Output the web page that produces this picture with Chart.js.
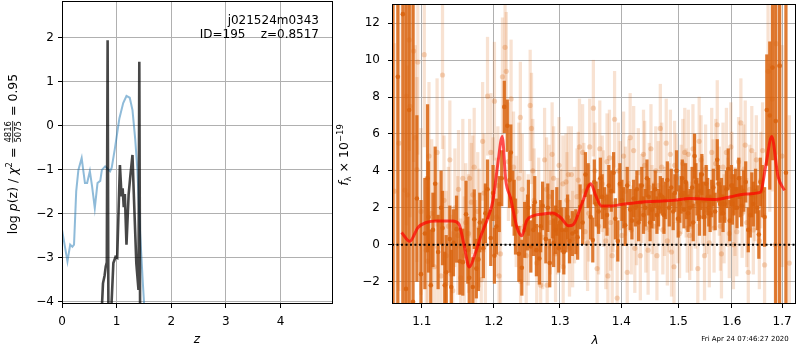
<!DOCTYPE html>
<html>
<head>
<meta charset="utf-8">
<script src="https://cdn.jsdelivr.net/npm/chart.js@4.4.1/dist/chart.umd.min.js"></script>
<style>
html, body { margin: 0; padding: 0; background: #fff; }
#wrap { position: relative; width: 800px; height: 350px; overflow: hidden; }
canvas { position: absolute; top: 0; }
#pz { left: 0; }
#sp { left: 330px; }
</style>
</head>
<body>
<div id="wrap">
  <canvas id="pz" width="340" height="350"></canvas>
  <canvas id="sp" width="470" height="350"></canvas>
</div>
<script>
// ---- panel 1: log p(z) ----
const zPrior = [0.00, 0.10, 0.15, 0.19, 0.22, 0.26, 0.30, 0.36, 0.42, 0.46, 0.51, 0.55, 0.60, 0.65, 0.70,
                0.73, 0.79, 0.88, 0.91, 0.97, 1.05, 1.12, 1.18, 1.24, 1.29, 1.34, 1.38, 1.43, 1.48, 1.52];
const logpPrior = [-2.36, -3.08, -2.7, -2.75, -2.7, -1.49, -1.0, -0.73, -1.3, -1.3, -1.03, -1.37, -1.87, -1.3, -1.25,
                   -1.0, -0.92, -1.03, -0.95, -0.5, 0.17, 0.52, 0.68, 0.64, 0.36, -0.3, -1.0, -2.44, -3.58, -4.4];
const zFit = [0.72, 0.75, 0.78, 0.80, 0.82, 0.835, 0.85, 0.89, 0.94, 0.98, 1.01, 1.06, 1.09, 1.11, 1.13,
              1.15, 1.18, 1.22, 1.25, 1.29, 1.31, 1.36, 1.40, 1.415, 1.43];
const logpFit = [-4.4, -3.58, -3.4, -3.2, -3.1, 1.95, -4.5, -4.5, -3.12, -2.98, -3.0, -0.89, -1.6, -1.42, -1.85,
                 -1.55, -2.7, -1.55, -1.15, -0.66, -1.4, -3.12, -3.73, 1.46, -4.5];
const zTicks = [0, 1, 2, 3, 4];
const logpTicks = [-4, -3, -2, -1, 0, 1, 2];

// ---- panel 2: spectrum ----
const lamDark = [1.0625,1.0687,1.0752,1.0793,1.0835,1.0885,1.0936,1.0990,1.1042,1.1078,
  1.1121,1.1150,1.1180,1.1220,1.1260,1.1310,1.1330,1.1380,1.1430,1.1473,
  1.1520,1.1560,1.1605,1.1650,1.1700,1.1721,1.1750,1.1800,1.1850,1.1910,
  1.1957,1.1990,1.2038,1.2080,1.2116,1.2154,1.2198,1.2232,1.2280,1.2320,
  1.2370,1.2414,1.2457,1.2513,1.2550,1.2590,1.2635,1.2680,1.2730,1.2780,
  1.2840,1.2880,1.2930,1.2980,1.3030,1.3095,1.3150,1.3195,1.3250,1.3320,
  1.3360,1.3406,1.3450,1.3490,1.3525,1.3550,1.3620,1.3680,1.3760,1.3790,
  1.3870,1.3940,1.4010,1.4065,1.4150,1.4210,1.4265,1.4320,1.4380,1.4440,
  1.4495,1.4555,1.4615,1.4675,1.4710,1.4800,1.4870,1.4905,1.4965,1.5025,
  1.5070,1.5130,1.5175,1.5250,1.5295,1.5340,1.5385,1.5430,1.5480,1.5540,
  1.5585,1.5645,1.5720,1.5775,1.5830,1.5895,1.5930,1.5990,1.6040,1.6135,
  1.6190,1.6230,1.6320,1.6360,1.6420,1.6465,1.6530,1.6600,1.6645,1.6690,
  1.6750,1.6805,1.6870,1.6950,1.7080,
  1.3000,1.3060,1.3120,1.3280,1.3580,1.3650,1.3720,1.3830,1.3900,1.3975,
  1.4040,1.4100,1.4180,1.4240,1.4295,1.4350,1.4410,1.4470,1.4525,1.4585,
  1.4645,1.4740,1.4770,1.4835,1.4935,1.4995,1.5050,1.5100,1.5150,1.5210,
  1.5270,1.5320,1.5365,1.5405,1.5455,1.5510,1.5560,1.5615,1.5680,1.5745,
  1.5800,1.5860,1.5960,1.6010,1.6070,1.6100,1.6160,1.6270,1.6390,1.6500,
  1.6560,1.2500,1.2610,1.2700,1.2810,1.2900,1.2950,1.1090,1.1280,1.1400,
  1.1630,1.1780,1.1880,1.2010,1.2250,1.2300];
const fluxDark = [14.5,9.1,12.5,-2.4,7.3,-3.1,2.5,-1.6,0.6,3.6,
  -2.2,0.8,3.3,-0.4,2.0,-2.2,-1.5,0.3,0.1,0.84,
  -0.9,-0.95,1.65,-1.8,-2.3,1.38,-1.3,1.2,-0.2,3.0,
  0.36,2.8,0.98,2.2,3.6,7.47,6.45,3.5,2.5,0.98,
  -0.5,-1.25,0.8,2.0,-0.1,0.8,-0.3,-0.75,2.1,0.3,
  -1.0,1.65,0.8,-0.2,0.8,0.8,0.2,0.6,0.7,2.05,
  1.2,3.8,3.2,1.5,0.25,3.4,1.8,2.6,1.6,3.2,
  3.9,0.2,2.4,1.05,1.9,2.5,3.0,2.3,1.6,3.6,
  1.2,2.3,1.6,2.7,2.6,3.5,3.1,1.8,4.0,2.2,
  3.6,3.4,1.7,3.1,4.8,2.6,1.5,3.8,1.5,2.6,
  1.7,3.1,4.6,2.2,1.7,3.0,4.1,3.2,2.7,3.6,
  2.1,2.9,0.8,1.6,2.2,2.9,0.55,2.9,1.5,7.3,
  7.0,9.6,6.7,9.7,3.9,
  1.2,-0.4,1.5,0.4,2.2,3.6,2.0,2.9,1.4,3.3,
  2.0,3.2,1.3,2.0,1.2,3.2,2.0,2.6,1.9,3.0,
  2.0,1.6,2.4,2.0,2.8,1.4,2.7,1.9,2.4,2.0,
  1.2,3.4,2.3,2.9,2.4,3.3,2.0,2.5,1.8,3.3,
  2.6,2.2,1.3,2.2,3.0,2.0,2.6,3.4,2.7,2.0,
  3.4,1.2,2.3,1.0,2.0,0.1,1.8,1.5,0.9,-2.3,
  -0.3,-0.8,1.7,-0.6,5.0,2.0];
const errDark = [25,25,25,25,25,25,4.5,4.0,3.0,4.0,
  3.0,2.0,2.0,2.0,2.0,1.8,2.0,1.8,1.8,1.8,
  1.8,1.8,1.8,1.8,1.6,1.6,1.6,1.6,1.6,1.6,
  1.5,1.5,1.5,1.5,1.5,1.4,1.4,1.5,1.5,1.5,
  1.5,1.5,1.5,1.5,1.4,1.4,1.4,1.4,1.3,1.3,
  1.3,1.3,1.3,1.3,1.2,1.2,1.2,1.2,1.2,1.2,
  1.2,1.2,1.2,1.2,1.2,1.2,1.2,1.2,1.1,1.1,
  1.1,1.1,1.1,1.1,1.1,1.0,1.0,1.0,1.0,1.0,
  1.0,1.0,1.0,1.0,1.0,1.0,1.0,1.0,1.1,1.0,
  1.0,1.0,1.0,1.1,1.2,1.0,1.0,1.1,1.0,1.0,
  1.0,1.0,1.1,1.0,1.0,1.0,1.1,1.1,1.1,1.1,
  1.1,1.1,1.2,1.2,1.2,1.2,1.3,1.4,1.6,3.0,
  4.0,5.0,25,25,25,
  1.2,1.2,1.2,1.2,1.2,1.1,1.1,1.1,1.1,1.1,
  1.1,1.0,1.0,1.0,1.0,1.0,1.0,1.0,1.0,1.0,
  1.0,1.0,1.0,1.0,1.0,1.0,1.0,1.0,1.0,1.0,
  1.0,1.0,1.0,1.0,1.0,1.0,1.0,1.0,1.0,1.0,
  1.0,1.0,1.1,1.1,1.1,1.1,1.1,1.1,1.2,1.2,
  1.3,1.5,1.4,1.4,1.3,1.3,1.3,3.0,2.0,2.0,
  1.8,1.7,1.6,1.5,1.5,1.5];

const lamLight = [1.0640,1.0700,1.0778,1.0800,1.0810,1.0835,1.0845,1.0893,1.0915,1.0936,
  1.0948,1.0990,1.1034,1.1060,1.1080,1.1097,1.1133,1.1170,1.1206,1.1215,
  1.1260,1.1280,1.1300,1.1330,1.1360,1.1380,1.1400,1.1420,1.1450,1.1490,
  1.1530,1.1560,1.1600,1.1655,1.1680,1.1700,1.1740,1.1790,1.1820,1.1860,
  1.1910,1.1958,1.2010,1.2040,1.2077,1.2098,1.2127,1.2165,1.2183,1.2215,
  1.2254,1.2290,1.2330,1.2370,1.2392,1.2395,1.2450,1.2480,1.2540,1.2560,
  1.2600,1.2640,1.2700,1.2730,1.2790,1.2800,1.2850,1.2877,1.2930,1.2985,
  1.3045,1.3050,1.3095,1.3131,1.3150,1.3180,1.3230,1.3270,1.3310,1.3360,
  1.3400,1.3440,1.3475,1.3535,1.3596,1.3640,1.3700,1.3760,1.3775,1.3820,
  1.3846,1.3886,1.3930,1.3980,1.4038,1.4100,1.4126,1.4170,1.4210,1.4260,
  1.4325,1.4380,1.4420,1.4480,1.4530,1.4595,1.4615,1.4675,1.4720,1.4780,
  1.4830,1.4875,1.4920,1.4930,1.4990,1.5050,1.5115,1.5160,1.5205,1.5265,
  1.5310,1.5355,1.5415,1.5480,1.5520,1.5615,1.5660,1.5720,1.5760,1.5800,
  1.5850,1.5895,1.5950,1.6000,1.6060,1.6095,1.6175,1.6230,1.6290,1.6320,
  1.6390,1.6450,1.6540,1.6605,1.6645,1.6715,1.6750,1.6800,1.6860,1.6880,
  1.6950,1.7000,1.7150,
  1.3010,1.3110,1.3200,1.3290,1.3380,1.3460,1.3560,1.3620,1.3680,1.3740,
  1.3800,1.3860,1.3950,1.4010,1.4070,1.4150,1.4230,1.4290,1.4350,1.4400,
  1.4460,1.4510,1.4560,1.4640,1.4700,1.4750,1.4800,1.4855,1.4960,1.5020,
  1.5080,1.5140,1.5180,1.5240,1.5290,1.5380,1.5440,1.5500,1.5570,1.5640,
  1.5690,1.5780,1.5830,1.5920,1.5980,1.6030,1.6130,1.6200,1.6260,1.6350,
  1.6420,1.6480,1.6570,1.2420,1.2510,1.2580,1.2670,1.2760,1.2830,1.2900,
  1.2960,1.1500,1.1580,1.1640,1.1720,1.1770,1.1840,1.1880,1.1990,1.2060];
const fluxLight = [2.9,5.5,2.96,8.06,2.7,11.1,7.5,10.5,5.8,4.07,
  9.9,1.8,10.3,-0.3,-0.9,4.8,1.7,-1.2,5.0,-0.14,
  -1.7,9.2,2.4,-0.6,1.0,4.6,-1.6,-2.5,2.0,0.5,
  -1.8,3.6,1.2,3.6,2.3,2.7,-0.8,0.9,-1.9,2.8,
  8.05,5.0,7.78,1.5,-1.7,-0.5,9.1,10.7,9.4,4.5,
  7.9,4.2,1.8,3.6,6.9,-2.0,1.0,-0.6,7.55,6.3,
  2.4,-1.0,-2.2,0.4,3.0,-2.2,1.2,4.9,-0.5,4.3,
  3.3,-1.2,3.4,3.8,-0.2,3.8,1.6,2.6,5.3,5.0,
  0.7,0.1,5.3,7.4,-1.3,5.2,2.5,4.5,-1.7,1.2,
  -0.6,6.8,-2.9,3.2,4.8,-1.5,3.3,0.8,5.1,1.3,
  -0.6,4.9,0.9,3.1,1.9,4.0,-0.6,6.3,0.8,5.5,
  2.0,-0.4,-1.2,4.3,1.4,3.0,5.0,0.9,0.5,5.2,
  2.2,-1.3,4.6,-0.6,1.9,5.0,0.9,6.5,2.9,-0.5,
  1.4,5.0,0.6,3.7,1.8,0.7,6.6,4.1,1.2,-1.5,
  5.1,2.6,0.2,5.1,-1.1,9.4,5.8,7.9,0.0,10.9,
  9.7,4.8,-1.0,
  1.5,2.4,0.3,3.5,2.9,1.7,4.0,1.0,3.3,0.2,
  4.7,2.2,4.0,0.5,2.9,5.8,-0.2,3.9,2.5,4.3,
  -0.3,5.2,1.0,3.2,4.2,1.8,0.2,4.9,3.6,0.6,
  4.4,2.8,4.9,1.0,3.6,5.6,2.4,4.1,0.1,3.3,
  4.4,1.0,4.2,2.3,5.3,0.0,4.5,1.7,5.4,3.0,
  0.8,4.6,3.5,3.0,0.8,4.0,1.9,4.6,2.6,3.6,
  1.0,3.0,-0.6,0.6,4.2,1.8,5.6,0.0,2.6,3.2];
const errLight = [8,8,7,7,7,6,6,6,5,5,
  5,4.5,5,4,4,4,4,4,4,3.5,
  3.5,4,3.5,3.5,3.2,3.2,3.2,3.2,3.2,3.2,
  3.2,3.2,3.2,3.2,3.2,3.2,3.2,3.2,3.2,3.2,
  3.2,3.2,3.2,3.2,3.2,3.2,3.2,3.2,3.2,3.2,
  3.2,3,3,3,3,3,3,3,3,3,
  2.8,2.8,2.8,2.8,2.8,2.8,2.8,2.8,2.6,2.6,
  2.6,2.6,2.6,2.6,2.6,2.6,2.6,2.6,2.6,2.6,
  2.6,2.6,2.6,2.6,2.6,2.6,2.6,2.6,2.6,2.6,
  2.6,2.6,2.6,2.4,2.4,2.4,2.4,2.4,2.4,2.4,
  2.4,2.4,2.4,2.4,2.4,2.4,2.4,2.4,2.4,2.4,
  2.4,2.4,2.4,2.4,2.4,2.4,2.4,2.4,2.4,2.4,
  2.4,2.4,2.4,2.4,2.4,2.4,2.4,2.4,2.4,2.4,
  2.4,2.4,2.4,2.4,2.4,2.4,2.4,2.4,2.4,2.4,
  2.4,2.4,2.6,2.6,2.8,4,4,5,6,6,
  6,6,8,
  2.6,2.6,2.6,2.6,2.6,2.6,2.6,2.6,2.6,2.6,
  2.6,2.6,2.6,2.4,2.4,2.4,2.4,2.4,2.4,2.4,
  2.4,2.4,2.4,2.4,2.4,2.4,2.4,2.4,2.4,2.4,
  2.4,2.4,2.4,2.4,2.4,2.4,2.4,2.4,2.4,2.4,
  2.4,2.4,2.4,2.4,2.4,2.4,2.4,2.4,2.4,2.4,
  2.4,2.4,2.6,3,3,2.8,2.8,2.8,2.8,2.8,
  2.6,3.2,3.2,3.2,3.2,3.2,3.2,3.2,3.2,3.2];

const lamModel = [1.0735, 1.0843, 1.0951, 1.106, 1.1194, 1.1415, 1.1506, 1.1574, 1.1651, 1.1733, 1.1824,
  1.1917, 1.1987, 1.2058, 1.2124, 1.2175, 1.2246, 1.2342, 1.2414, 1.2487, 1.2585, 1.2733, 1.2884,
  1.3009, 1.3136, 1.3214, 1.3345, 1.3494, 1.3569, 1.3666, 1.383, 1.405, 1.433, 1.4615, 1.4912,
  1.521, 1.570, 1.598, 1.627, 1.6563, 1.667, 1.679, 1.6917, 1.705];
const fluxModel = [0.66, 0.18, 0.93, 1.2, 1.28, 1.28, 1.11, 0.04, -1.22, -0.5, 0.57,
  1.47, 2.37, 4.34, 5.86, 3.5, 2.54, 0.93, 0.48, 1.3, 1.56, 1.66, 1.72,
  1.47, 1.02, 1.1, 2.19, 3.3, 2.7, 2.1, 2.1, 2.2, 2.3, 2.35, 2.4,
  2.5, 2.45, 2.6, 2.75, 2.85, 4.3, 5.86, 3.7, 2.94];
const lamTicks = [1.1, 1.2, 1.3, 1.4, 1.5, 1.6, 1.7];
const fluxTicks = [-2, 0, 2, 4, 6, 8, 10, 12];
const zeroLevel = 0;

const FONT = "'DejaVu Sans', sans-serif";
const tickFont = { family: FONT, size: 12 };

function fmt(v) {
    return v < 0 ? '\u2212' + Math.abs(v) : String(v);
}

function pts(xs, ys) {
    return xs.map((x, i) => ({ x: x, y: ys[i] }));
}

function bars(xs, ys, es) {
    return xs.map((x, i) => ({ x: x, y: [ys[i] - es[i], ys[i] + es[i]] }));
}

// texto con tramos (superindices, cursiva, fraccion)
function drawRuns(ctx, runs, cx, cy, angle) {
    ctx.save();
    ctx.translate(cx, cy);
    ctx.rotate(angle);
    ctx.fillStyle = '#000';
    ctx.textBaseline = 'alphabetic';
    let total = 0;
    runs.forEach(r => {
        ctx.font = r.font;
        r.w = r.frac
            ? Math.max(ctx.measureText(r.frac[0]).width, ctx.measureText(r.frac[1]).width) + 2
            : ctx.measureText(r.text).width;
        total += r.w;
    });
    let x = -total / 2;
    runs.forEach(r => {
        ctx.font = r.font;
        if (r.frac) {
            ctx.textAlign = 'center';
            ctx.fillText(r.frac[0], x + r.w / 2, -1);
            ctx.fillText(r.frac[1], x + r.w / 2, 8.5);
            ctx.fillRect(x + 1, 0.3, r.w - 2, 0.8);
        } else {
            ctx.textAlign = 'left';
            ctx.fillText(r.text, x, 4.5 + (r.dy || 0));
        }
        x += r.w;
    });
    ctx.restore();
}

// marco negro alrededor del area
const framePlugin = {
    id: 'frame',
    afterDraw(chart) {
        const a = chart.chartArea;
        const ctx = chart.ctx;
        ctx.save();
        ctx.strokeStyle = '#000';
        ctx.lineWidth = 1;
        ctx.strokeRect(a.left + 0.5, a.top + 0.5, a.right - a.left - 1, a.bottom - a.top - 1);
        ctx.restore();
    }
};

function fixedTicks(values) {
    return function (scale) {
        scale.ticks = values.map(v => ({ value: v }));
    };
}

function fitY(w) {
    return function (s) { s.width = w; s.paddingTop = 0; s.paddingBottom = 0; };
}

function fitX(h) {
    return function (s) { s.height = h; s.paddingLeft = 0; s.paddingRight = 0; };
}

const gridOpts = { color: '#b0b0b0', lineWidth: 1, tickColor: '#000', tickLength: 4 };

// ---- grafico p(z) ----
const pzLabels = {
    id: 'pzLabels',
    afterDraw(chart) {
        const ctx = chart.ctx;
        const R = "12.5px " + FONT, I = "italic 12.5px " + FONT, S = "8.5px " + FONT;
        drawRuns(ctx, [
            { text: 'log ', font: R }, { text: 'p', font: I }, { text: '(z) / ', font: R },
            { text: '\u03c7', font: I }, { text: '2', font: S, dy: -5 }, { text: ' = ', font: R },
            { frac: ['4816', '5075'], font: S }, { text: ' = 0.95', font: R }
        ], 12, 154, -Math.PI / 2);
        ctx.save();
        ctx.fillStyle = '#000';
        ctx.font = "italic 12px " + FONT;
        ctx.textAlign = 'center';
        ctx.textBaseline = 'middle';
        ctx.fillText('z', 197, 340);
        ctx.font = "12px " + FONT;
        ctx.textAlign = 'right';
        ctx.textBaseline = 'alphabetic';
        ctx.fillText('j021524m0343', 319, 24);
        ctx.fillText('ID=195    z=0.8517', 319, 38);
        ctx.restore();
    }
};

new Chart(document.getElementById('pz'), {
    type: 'scatter',
    data: {
        datasets: [
            {
                data: pts(zFit, logpFit),
                showLine: true,
                borderColor: 'rgba(0,0,0,0.72)',
                borderWidth: 2.6,
                pointRadius: 0,
                clip: 0,
                order: 0
            },
            {
                data: pts(zPrior, logpPrior),
                showLine: true,
                borderColor: 'rgba(31,119,180,0.5)',
                borderWidth: 2,
                pointRadius: 0,
                clip: 0,
                order: 1
            }
        ]
    },
    options: {
        responsive: false,
        animation: false,
        layout: { padding: { top: 1, right: 7, left: 0, bottom: 0 } },
        plugins: { legend: { display: false }, tooltip: { enabled: false } },
        scales: {
            x: {
                type: 'linear',
                min: 0,
                max: 4.96,
                afterBuildTicks: fixedTicks(zTicks),
                afterFit: fitX(46),
                grid: gridOpts,
                border: { display: false },
                ticks: { font: tickFont, color: '#000', padding: 7, maxRotation: 0, autoSkip: false, callback: fmt }
            },
            y: {
                type: 'linear',
                min: -4.05,
                max: 2.84,
                afterBuildTicks: fixedTicks(logpTicks),
                afterFit: fitY(62),
                grid: gridOpts,
                border: { display: false },
                ticks: { font: tickFont, color: '#000', padding: 4, autoSkip: false, callback: fmt }
            }
        }
    },
    plugins: [framePlugin, pzLabels]
});

// ---- grafico espectro ----
const spLabels = {
    id: 'spLabels',
    afterDraw(chart) {
        const ctx = chart.ctx;
        const R = "12.5px " + FONT, I = "italic 12.5px " + FONT, S = "8.5px " + FONT;
        drawRuns(ctx, [
            { text: 'f', font: I }, { text: '\u03bb', font: S, dy: 3 }, { text: ' \u00d7 10', font: R },
            { text: '\u221219', font: S, dy: -5 }
        ], 13, 155, -Math.PI / 2);
        ctx.save();
        ctx.fillStyle = '#000';
        ctx.font = "italic 12px " + FONT;
        ctx.textAlign = 'center';
        ctx.textBaseline = 'middle';
        ctx.fillText('\u03bb', 265, 341);
        ctx.font = "7px " + FONT;
        ctx.fillText('Fri Apr 24 07:46:27 2020', 415, 339);
        ctx.restore();
    }
};

const lamMin = 1.0612, lamMax = 1.7289;

new Chart(document.getElementById('sp'), {
    type: 'scatter',
    data: {
        datasets: [
            {
                data: pts(lamModel, fluxModel),
                showLine: true,
                borderColor: 'rgba(255,0,0,0.7)',
                borderWidth: 3,
                pointRadius: 0,
                cubicInterpolationMode: 'monotone',
                clip: 0,
                order: 0
            },
            {
                data: [{ x: lamMin, y: zeroLevel }, { x: lamMax, y: zeroLevel }],
                showLine: true,
                borderColor: '#000',
                borderWidth: 2,
                borderDash: [2, 2.5],
                pointRadius: 0,
                clip: 0,
                order: 1
            },
            {
                data: pts(lamDark, fluxDark),
                backgroundColor: 'rgba(217,100,15,0.9)',
                pointRadius: 2.3,
                pointBorderWidth: 0,
                clip: 0,
                order: 2
            },
            {
                type: 'bar',
                data: bars(lamDark, fluxDark, errDark),
                backgroundColor: 'rgba(217,100,15,0.85)',
                barThickness: 2.6,
                grouped: false,
                borderWidth: 0,
                clip: 0,
                order: 3
            },
            {
                data: pts(lamLight, fluxLight),
                backgroundColor: 'rgba(217,100,15,0.26)',
                pointRadius: 2.6,
                pointBorderWidth: 0,
                clip: 0,
                order: 4
            },
            {
                type: 'bar',
                data: bars(lamLight, fluxLight, errLight),
                backgroundColor: 'rgba(217,100,15,0.19)',
                barThickness: 2.6,
                grouped: false,
                borderWidth: 0,
                clip: 0,
                order: 5
            }
        ]
    },
    options: {
        responsive: false,
        animation: false,
        layout: { padding: { top: 1, right: 1, left: 0, bottom: 0 } },
        plugins: { legend: { display: false }, tooltip: { enabled: false } },
        scales: {
            x: {
                type: 'logarithmic',
                min: lamMin,
                max: lamMax,
                offset: false,
                afterBuildTicks: fixedTicks(lamTicks),
                afterFit: fitX(46),
                grid: Object.assign({ offset: false }, gridOpts),
                border: { display: false },
                ticks: { font: tickFont, color: '#000', padding: 7, maxRotation: 0, autoSkip: false,
                         callback: (v) => Number(v).toFixed(1) }
            },
            y: {
                type: 'linear',
                min: -3.22,
                max: 13.05,
                afterBuildTicks: fixedTicks(fluxTicks),
                afterFit: fitY(62),
                grid: gridOpts,
                border: { display: false },
                ticks: { font: tickFont, color: '#000', padding: 8, autoSkip: false, callback: fmt }
            }
        }
    },
    plugins: [framePlugin, spLabels]
});
</script>
</body>
</html>
